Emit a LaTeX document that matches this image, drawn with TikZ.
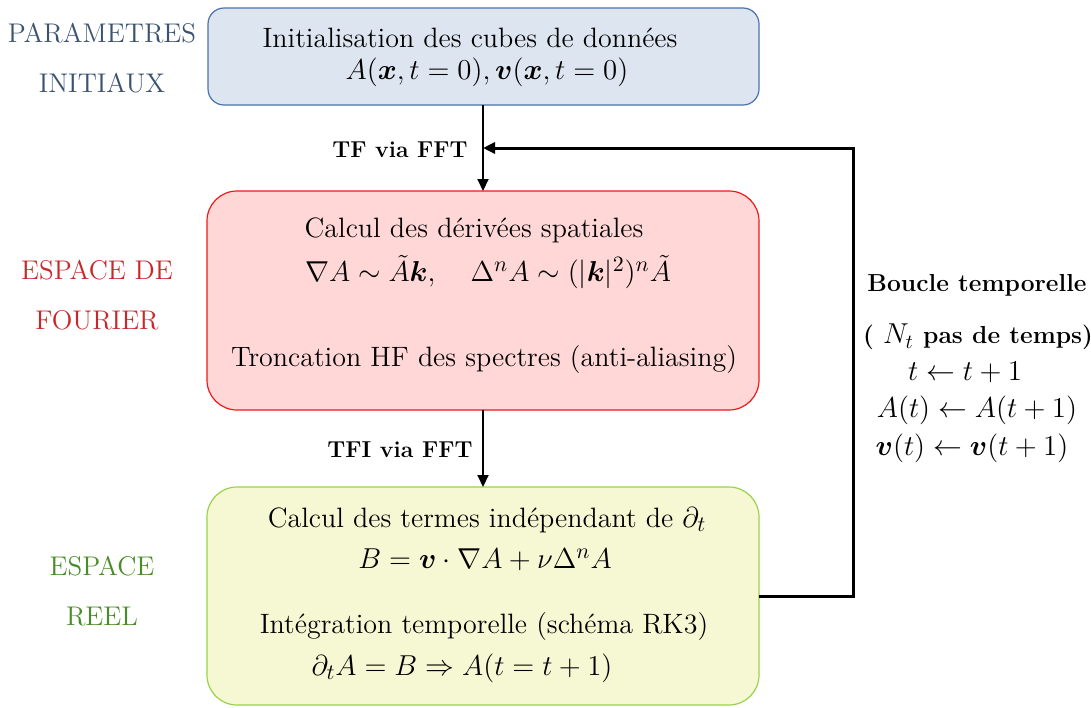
\documentclass[tikz,border=0pt]{standalone}
\usepackage{amsmath,amssymb}
\usetikzlibrary{arrows.meta}
\definecolor{bluefill}{HTML}{DDE5F0}
\definecolor{blueline}{HTML}{4A72B0}
\definecolor{redfill}{HTML}{FFD7D7}
\definecolor{redline}{HTML}{F01818}
\definecolor{greenfill}{HTML}{F5F8D2}
\definecolor{greenline}{HTML}{9AD24A}
\definecolor{bluetxt}{HTML}{3A5370}
\definecolor{redtxt}{HTML}{C8282C}
\definecolor{greentxt}{HTML}{4A8C28}
\newcommand{\mbig}{\fontsize{15.2}{18}\selectfont}
\tikzset{
  boxtxt/.style={align=center, inner sep=0pt, font=\fontsize{14}{17}\selectfont},
  mathtxt/.style={align=center, inner sep=0pt, font=\mbig},
  sidelbl/.style={align=center, font=\fontsize{13.5}{25}\selectfont},
  arrlbl/.style={inner sep=1pt, font=\fontsize{11.5}{14}\selectfont\bfseries},
  rlbl/.style={inner sep=0pt, font=\fontsize{12.3}{15}\selectfont\bfseries},
  flow/.style={line width=1pt, -{Triangle[length=6pt,width=5.5pt]}},
}
\begin{document}
\begin{tikzpicture}[x=0.5pt,y=-0.5pt]
\useasboundingbox (0,0) rectangle (1091,707);
% boxes
\draw[fill=bluefill, draw=blueline, line width=0.6pt, rounded corners=8pt] (208,8) rectangle (759,105);
\draw[fill=redfill, draw=redline, line width=0.6pt, rounded corners=15pt] (207,191) rectangle (759,410);
\draw[fill=greenfill, draw=greenline, line width=0.6pt, rounded corners=15pt] (207,487) rectangle (759,705);
\coordinate (bB) at (483,105);
\coordinate (rT) at (483,191);
\coordinate (rB) at (483,410);
\coordinate (gT) at (483,487);
\coordinate (gR) at (759,596);
\coordinate (c1) at (853,596);
\coordinate (c2) at (853,148);
\coordinate (j) at (483,148);
% texts in boxes
\node[boxtxt] (t1) at (470,38) {Initialisation des cubes de données};
\node[mathtxt] (t2) at (487,72) {$A(\boldsymbol{x},t=0),\boldsymbol{v}(\boldsymbol{x},t=0)$};
\node[boxtxt] (t3) at (474,230) {Calcul des dérivées spatiales};
\node[mathtxt] (t4) at (488,272) {$\nabla A\sim\tilde{A}\boldsymbol{k},\quad \Delta^nA\sim(|\boldsymbol{k}|^2)^n\tilde{A}$};
\node[boxtxt] (t5) at (484,360) {Troncation HF des spectres (anti-aliasing)};
\node[boxtxt] (t6) at (487,520) {Calcul des termes indépendant de {\mbig$\partial_t$}};
\node[mathtxt] (t7) at (485,560) {$B=\boldsymbol{v}\cdot\nabla A+\nu\Delta^nA$};
\node[boxtxt] (t8) at (484,627) {Intégration temporelle (schéma RK3)};
\node[mathtxt] (t9) at (462,668) {$\partial_tA=B\Rightarrow A(t=t+1)$};
% side labels
\node[sidelbl, text=bluetxt] (s1) at (102,58) {PARAMETRES\\INITIAUX};
\node[sidelbl, text=redtxt] (s2) at (97,295) {ESPACE DE\\FOURIER};
\node[sidelbl, text=greentxt] (s3) at (102,591) {ESPACE\\REEL};
% arrows
\draw[flow] (bB) -- (rT);
\draw[flow] (rB) -- (gT);
\draw[line width=1.5pt, -{Triangle[length=6pt,width=5.5pt]}] (gR) -- (c1) -- (c2) -- (j);
\node[arrlbl] (a1) at (400,150) {TF via FFT};
\node[arrlbl] (a2) at (400,450) {TFI via FFT};
% right label
\node[rlbl] (r1) at (977,285) {Boucle temporelle};
\node[rlbl] (r2) at (978,337) {( {\fontsize{14.5}{17}\selectfont$N_t$} pas de temps)};
\node[mathtxt] (r3) at (965,372) {$t\leftarrow t+1$};
\node[mathtxt] (r4) at (977,410) {$A(t)\leftarrow A(t+1)$};
\node[mathtxt] (r5) at (972,448) {$\boldsymbol{v}(t)\leftarrow\boldsymbol{v}(t+1)$};
\end{tikzpicture}
\end{document}
